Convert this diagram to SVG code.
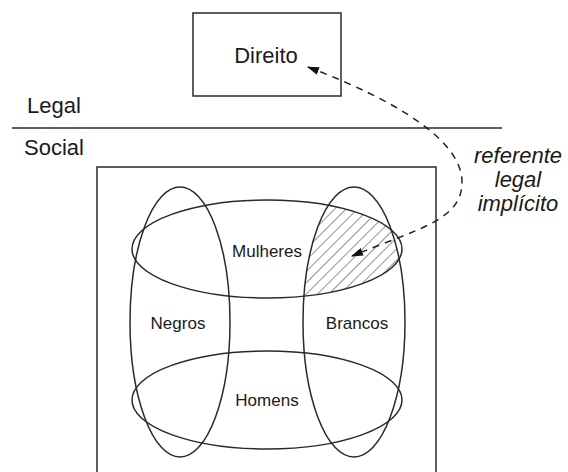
<svg xmlns="http://www.w3.org/2000/svg" width="568" height="472" viewBox="0 0 568 472">
<style>
.s{fill:none;stroke:#2a2a2a;stroke-width:1.5}
.t{font-family:"Liberation Sans",Arial,sans-serif;fill:#1a1a1a}
.lbl{font-size:17px;text-anchor:middle}
.it{font-style:italic;font-size:22px;text-anchor:middle}
</style>
<defs>
<pattern id="hatch" patternUnits="userSpaceOnUse" width="8" height="8" patternTransform="rotate(45)">
<line x1="0" y1="0" x2="0" y2="8" stroke="#2a2a2a" stroke-width="1"/>
</pattern>
<clipPath id="clipB"><ellipse cx="354" cy="322" rx="51" ry="135"/></clipPath>
<marker id="arr" viewBox="0 0 12 8" refX="11" refY="4" markerWidth="12" markerHeight="8" markerUnits="userSpaceOnUse" orient="auto-start-reverse">
<path d="M0,0 L12,4 L0,8 z" fill="#111"/>
</marker>
</defs>
<rect width="568" height="472" fill="#fff"/>
<g id="direito">
<rect class="s" x="193" y="13" width="148" height="83"/>
<text class="t" x="266" y="63" font-size="22" text-anchor="middle">Direito</text>
</g>
<g id="divider">
<line class="s" x1="12" y1="128" x2="502" y2="128" stroke-width="2"/>
<text class="t" x="27" y="113" font-size="22">Legal</text>
<text class="t" x="24" y="155" font-size="22">Social</text>
</g>
<g id="social-box">
<rect class="s" x="97" y="167" width="339" height="320"/>
</g>
<g id="hatched">
<g clip-path="url(#clipB)">
<ellipse cx="267" cy="249" rx="135" ry="49" fill="url(#hatch)"/>
</g>
</g>
<g id="negros">
<ellipse class="s" cx="180" cy="322" rx="50" ry="135"/>
<text class="t lbl" x="178" y="329">Negros</text>
</g>
<g id="brancos">
<ellipse class="s" cx="354" cy="322" rx="51" ry="135"/>
<text class="t lbl" x="357" y="329">Brancos</text>
</g>
<g id="mulheres">
<ellipse class="s" cx="267" cy="249" rx="135" ry="49"/>
<text class="t lbl" x="267" y="257">Mulheres</text>
</g>
<g id="homens">
<ellipse class="s" cx="267" cy="400" rx="135" ry="49"/>
<text class="t lbl" x="267" y="406">Homens</text>
</g>
<g id="referente">
<text class="t it" x="518" y="163">referente</text>
<text class="t it" x="518" y="187">legal</text>
<text class="t it" x="518" y="211">implícito</text>
</g>
<g id="connectors">
<path d="M308,67 C395,100 462,140 462,182 C462,220 420,228 352,256" fill="none" stroke="#222" stroke-width="1.5" stroke-dasharray="7,6" marker-start="url(#arr)" marker-end="url(#arr)"/>
</g>
</svg>
